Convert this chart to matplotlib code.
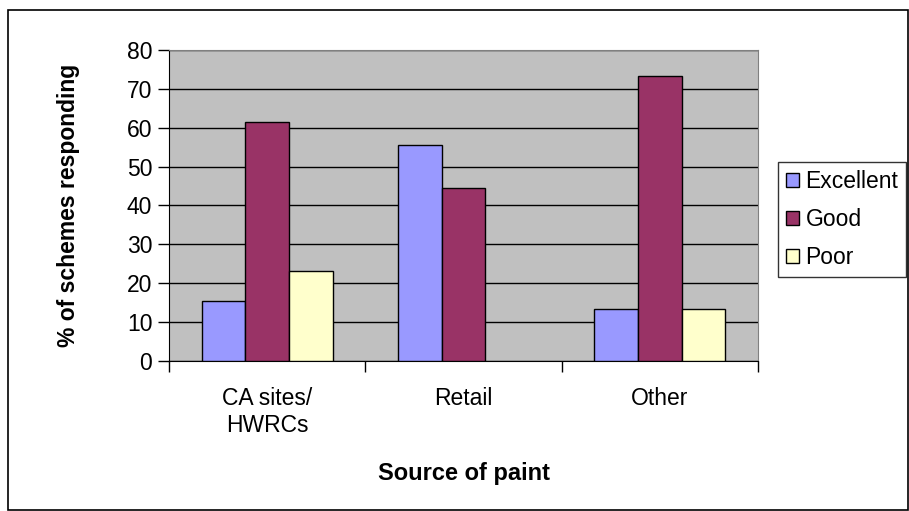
import numpy as np
import matplotlib.pyplot as plt
from matplotlib.patches import Rectangle

plt.rcParams['font.family'] = ['Liberation Sans', 'DejaVu Sans']

# survey responses, % of schemes
sources = ['CA sites/\nHWRCs', 'Retail', 'Other']
ratings = ['Excellent', 'Good', 'Poor']
excellent = [15.4, 55.6, 13.3]
good = [61.5, 44.4, 73.3]
poor = [23.1, 0.0, 13.3]
colors = ['#9999FF', '#993366', '#FFFFCC']

fig = plt.figure(figsize=(9.09, 5.11), dpi=100)
W, H = 909, 511
ax = fig.add_axes([169 / W, 1 - 361 / H, (758 - 169) / W, (361 - 50) / H])
ax.set_facecolor('#C0C0C0')

x = np.arange(len(sources))
bw = 0.222
for i, (vals, c) in enumerate(zip([excellent, good, poor], colors)):
    bars = ax.bar(x + (i - 1) * bw, vals, bw, color=c, edgecolor='black',
                  linewidth=1, label=ratings[i], zorder=3)
    # empty categories get no outline
    for b, v in zip(bars, vals):
        if v == 0:
            b.set_linewidth(0)

ax.set_xlim(-0.5, 2.5)
ax.set_ylim(0, 80)
ax.set_yticks(range(0, 81, 10))
ax.yaxis.grid(True, color='black', linewidth=1, zorder=1)
ax.set_axisbelow(True)

# category boundary ticks, labels centred under each group
ax.set_xticks([-0.5, 0.5, 1.5, 2.5])
ax.set_xticklabels([])
ax.set_xticks(x, minor=True)
ax.set_xticklabels(sources, minor=True, fontsize=16.5, linespacing=1.2)
ax.tick_params(axis='x', which='major', length=8, width=1, direction='out')
ax.tick_params(axis='x', which='minor', length=0, pad=19)
ax.tick_params(axis='y', length=8, width=1, labelsize=16.5, pad=4)

for side in ['top', 'right']:
    ax.spines[side].set_color('#808080')
for side in ['left', 'bottom']:
    ax.spines[side].set_color('black')

ax.set_xlabel('Source of paint', fontsize=17, fontweight='bold', labelpad=18)
ax.set_ylabel('% of schemes responding', fontsize=16.5, fontweight='bold', labelpad=34)

leg = fig.legend(loc='upper left', bbox_to_anchor=(778 / W, 1 - 162 / H),
                 fontsize=16.5, frameon=True, fancybox=False, edgecolor='black',
                 handlelength=0.55, handleheight=0.55, handletextpad=0.3,
                 labelspacing=0.65, borderpad=0.35, borderaxespad=0)
leg.get_frame().set_linewidth(1)

# chart border
fig.patches.append(Rectangle((8 / W, 1 / H), 1 - 9 / W, 1 - 11 / H,
                             transform=fig.transFigure, fill=False,
                             edgecolor='black', linewidth=1.2))

fig.savefig('out.png', dpi=100)
